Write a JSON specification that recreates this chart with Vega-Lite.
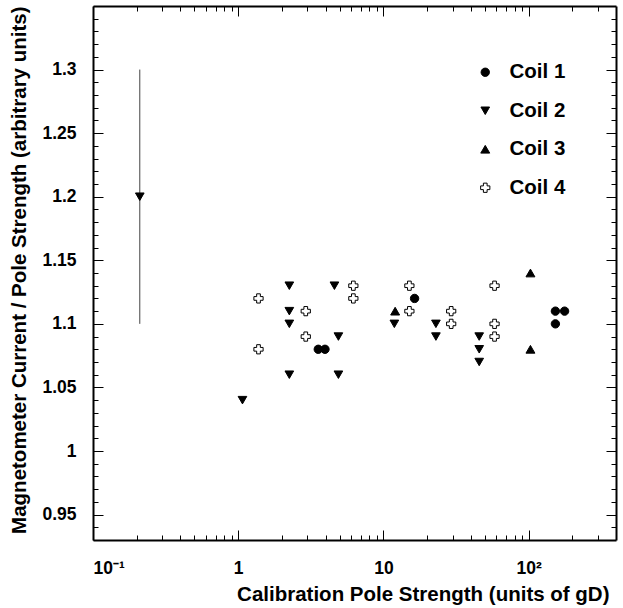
{
  "$schema": "https://vega.github.io/schema/vega-lite/v6.json",
  "width": 523,
  "height": 534,
  "autosize": {"type": "none"},
  "padding": {"left": 93, "top": 6, "right": 7, "bottom": 68},
  "background": "white",
  "config": {
    "font": "Liberation Sans",
    "view": {"stroke": null},
    "axis": {
      "domainColor": "black",
      "domainWidth": 2,
      "tickColor": "black",
      "tickWidth": 1,
      "grid": false,
      "labelFont": "Liberation Sans",
      "labelFontWeight": "bold",
      "labelFontSize": 17.5,
      "labelColor": "black",
      "titleFont": "Liberation Sans",
      "titleFontWeight": "bold",
      "titleFontSize": 20.5,
      "titleColor": "black"
    }
  },
  "data": {
    "values": [
      {"strength": 3.56, "ratio": 1.08, "coil": "Coil 1"},
      {"strength": 3.96, "ratio": 1.08, "coil": "Coil 1"},
      {"strength": 16.4, "ratio": 1.12, "coil": "Coil 1"},
      {"strength": 153, "ratio": 1.11, "coil": "Coil 1"},
      {"strength": 177, "ratio": 1.11, "coil": "Coil 1"},
      {"strength": 153, "ratio": 1.10, "coil": "Coil 1"},
      {"strength": 0.21, "ratio": 1.20, "coil": "Coil 2"},
      {"strength": 1.07, "ratio": 1.04, "coil": "Coil 2"},
      {"strength": 2.25, "ratio": 1.13, "coil": "Coil 2"},
      {"strength": 2.25, "ratio": 1.11, "coil": "Coil 2"},
      {"strength": 2.25, "ratio": 1.10, "coil": "Coil 2"},
      {"strength": 2.25, "ratio": 1.06, "coil": "Coil 2"},
      {"strength": 4.6, "ratio": 1.13, "coil": "Coil 2"},
      {"strength": 4.9, "ratio": 1.09, "coil": "Coil 2"},
      {"strength": 4.9, "ratio": 1.06, "coil": "Coil 2"},
      {"strength": 11.9, "ratio": 1.10, "coil": "Coil 2"},
      {"strength": 23, "ratio": 1.10, "coil": "Coil 2"},
      {"strength": 23, "ratio": 1.09, "coil": "Coil 2"},
      {"strength": 45.7, "ratio": 1.09, "coil": "Coil 2"},
      {"strength": 45.7, "ratio": 1.08, "coil": "Coil 2"},
      {"strength": 45.7, "ratio": 1.07, "coil": "Coil 2"},
      {"strength": 12.05, "ratio": 1.11, "coil": "Coil 3"},
      {"strength": 103, "ratio": 1.14, "coil": "Coil 3"},
      {"strength": 103, "ratio": 1.08, "coil": "Coil 3"},
      {"strength": 1.38, "ratio": 1.12, "coil": "Coil 4"},
      {"strength": 1.38, "ratio": 1.08, "coil": "Coil 4"},
      {"strength": 2.92, "ratio": 1.11, "coil": "Coil 4"},
      {"strength": 2.92, "ratio": 1.09, "coil": "Coil 4"},
      {"strength": 6.21, "ratio": 1.13, "coil": "Coil 4"},
      {"strength": 6.21, "ratio": 1.12, "coil": "Coil 4"},
      {"strength": 15.1, "ratio": 1.13, "coil": "Coil 4"},
      {"strength": 15.1, "ratio": 1.11, "coil": "Coil 4"},
      {"strength": 29.3, "ratio": 1.11, "coil": "Coil 4"},
      {"strength": 29.3, "ratio": 1.10, "coil": "Coil 4"},
      {"strength": 58.3, "ratio": 1.13, "coil": "Coil 4"},
      {"strength": 58.3, "ratio": 1.10, "coil": "Coil 4"},
      {"strength": 58.3, "ratio": 1.09, "coil": "Coil 4"}
    ]
  },
  "layer": [
    {
      "data": {"values": [{"strength": 0.21, "lo": 1.1, "hi": 1.3}]},
      "mark": {"type": "rule", "color": "#444444", "strokeWidth": 1},
      "encoding": {
        "x": {"field": "strength", "type": "quantitative", "scale": {"type": "log", "domain": [0.1, 400], "nice": false}, "axis": null},
        "y": {"field": "lo", "type": "quantitative", "scale": {"domain": [0.93, 1.35], "nice": false, "zero": false}, "axis": null},
        "y2": {"field": "hi"}
      }
    },
    {
      "mark": {"type": "point", "filled": true, "stroke": "black", "strokeWidth": 1, "opacity": 1},
      "encoding": {
        "x": {
          "field": "strength", "type": "quantitative",
          "scale": {"type": "log", "domain": [0.1, 400], "nice": false},
          "axis": {
            "orient": "bottom",
            "values": [0.1, 1, 10, 100],
            "tickSize": -10,
            "labelPadding": 29,
            "labelExpr": "datum.value < 0.5 ? '10⁻¹' : datum.value < 5 ? '1' : datum.value < 50 ? '10' : '10²'",
            "title": "Calibration Pole Strength (units of gD)",
            "titleAnchor": "end",
            "titleAlign": "right",
            "titleX": 516,
            "titleY": 60,
            "titleBaseline": "alphabetic"
          }
        },
        "y": {
          "field": "ratio", "type": "quantitative",
          "scale": {"domain": [0.93, 1.35], "nice": false, "zero": false},
          "axis": {
            "orient": "left",
            "values": [0.95, 1, 1.05, 1.1, 1.15, 1.2, 1.25, 1.3],
            "tickSize": -10,
            "labelPadding": 27,
            "labelExpr": "'' + datum.value",
            "title": "Magnetometer Current / Pole Strength (arbitrary units)",
            "titleAnchor": "end",
            "titleX": -68,
            "titleBaseline": "alphabetic"
          }
        },
        "shape": {
          "field": "coil", "type": "nominal",
          "scale": {"domain": ["Coil 1", "Coil 2", "Coil 3", "Coil 4"], "range": ["circle", "triangle-down", "triangle-up", "cross"]},
          "legend": {
            "orient": "none", "legendX": 382, "legendY": 56, "title": null,
            "labelFontSize": 20.5, "labelFontWeight": "bold", "labelColor": "black", "labelFont": "Liberation Sans",
            "symbolStrokeColor": "black", "symbolStrokeWidth": 1, "rowPadding": 17.5, "labelOffset": 14
          }
        },
        "fill": {
          "field": "coil", "type": "nominal",
          "scale": {"domain": ["Coil 1", "Coil 2", "Coil 3", "Coil 4"], "range": ["black", "black", "black", "white"]}
        },
        "size": {
          "field": "coil", "type": "nominal",
          "scale": {"domain": ["Coil 1", "Coil 2", "Coil 3", "Coil 4"], "range": [70, 85, 85, 110]}
        }
      }
    },
    {
      "mark": {"type": "point", "opacity": 0},
      "encoding": {
        "x": {"field": "strength", "type": "quantitative", "scale": {"type": "log", "domain": [0.1, 400], "nice": false},
          "axis": {"orient": "bottom", "values": [0.2,0.3,0.4,0.5,0.6,0.7,0.8,0.9,2,3,4,5,6,7,8,9,20,30,40,50,60,70,80,90,200,300], "tickSize": -5, "labels": false, "title": null, "domain": false}},
        "y": {"field": "ratio", "type": "quantitative", "scale": {"domain": [0.93, 1.35], "nice": false, "zero": false},
          "axis": {"orient": "left", "values": [0.94,0.96,0.97,0.98,0.99,1.01,1.02,1.03,1.04,1.06,1.07,1.08,1.09,1.11,1.12,1.13,1.14,1.16,1.17,1.18,1.19,1.21,1.22,1.23,1.24,1.26,1.27,1.28,1.29,1.31,1.32,1.33,1.34], "tickSize": -5, "labels": false, "title": null, "domain": false}}
      }
    },
    {
      "mark": {"type": "point", "opacity": 0},
      "encoding": {
        "x": {"field": "strength", "type": "quantitative", "scale": {"type": "log", "domain": [0.1, 400], "nice": false},
          "axis": {"orient": "top", "values": [0.1, 1, 10, 100], "tickSize": -10, "labels": false, "title": null}},
        "y": {"field": "ratio", "type": "quantitative", "scale": {"domain": [0.93, 1.35], "nice": false, "zero": false},
          "axis": {"orient": "right", "values": [0.95, 1, 1.05, 1.1, 1.15, 1.2, 1.25, 1.3], "tickSize": -10, "labels": false, "title": null}}
      }
    },
    {
      "mark": {"type": "point", "opacity": 0},
      "encoding": {
        "x": {"field": "strength", "type": "quantitative", "scale": {"type": "log", "domain": [0.1, 400], "nice": false},
          "axis": {"orient": "top", "values": [0.2,0.3,0.4,0.5,0.6,0.7,0.8,0.9,2,3,4,5,6,7,8,9,20,30,40,50,60,70,80,90,200,300], "tickSize": -5, "labels": false, "title": null, "domain": false}},
        "y": {"field": "ratio", "type": "quantitative", "scale": {"domain": [0.93, 1.35], "nice": false, "zero": false},
          "axis": {"orient": "right", "values": [0.94,0.96,0.97,0.98,0.99,1.01,1.02,1.03,1.04,1.06,1.07,1.08,1.09,1.11,1.12,1.13,1.14,1.16,1.17,1.18,1.19,1.21,1.22,1.23,1.24,1.26,1.27,1.28,1.29,1.31,1.32,1.33,1.34], "tickSize": -5, "labels": false, "title": null, "domain": false}}
      }
    }
  ],
  "resolve": {"axis": {"x": "independent", "y": "independent"}}
}
